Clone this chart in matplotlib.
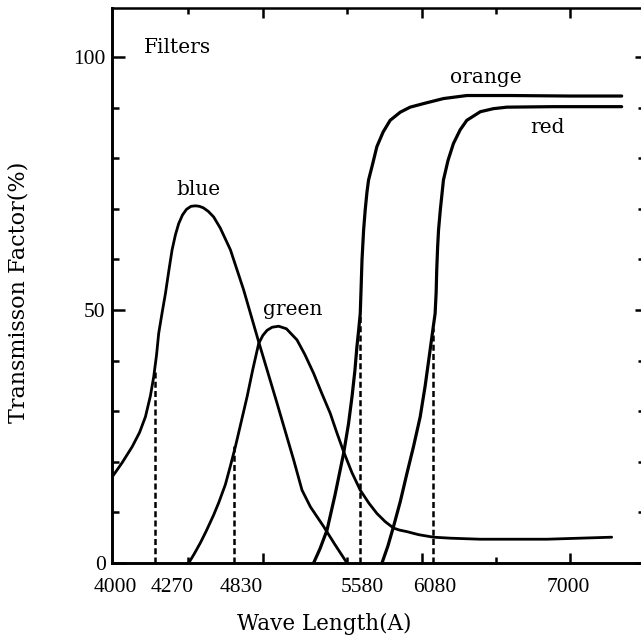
import numpy as np
import matplotlib
matplotlib.use("Agg")
import matplotlib.pyplot as plt
import matplotlib.transforms as mtransforms
from matplotlib.ticker import FixedLocator

# ---------------- data ----------------
blue_wl = [4000, 4060, 4124, 4170, 4207, 4238, 4259, 4278, 4293, 4318, 4341, 4365,
           4388, 4412, 4435, 4462, 4490, 4522, 4554, 4582, 4610, 4645, 4683, 4730,
           4802, 4885, 4975, 5084, 5183, 5233, 5283, 5362, 5430, 5501]
blue_t = [17.1, 19.8, 23.0, 25.8, 28.9, 33.0, 36.8, 41.2, 45.4, 49.6, 53.3, 57.8,
          61.9, 64.9, 67.1, 68.8, 69.9, 70.5, 70.6, 70.5, 70.2, 69.5, 68.4, 66.2,
          61.9, 54.0, 43.7, 31.6, 20.4, 14.4, 11.1, 7.2, 3.6, 0.0]

green_wl = [4506, 4545, 4589, 4630, 4683, 4720, 4766, 4800, 4836, 4870, 4906, 4940,
            4975, 5000, 5025, 5055, 5094, 5140, 5203, 5250, 5302, 5350, 5401, 5440,
            5481, 5530, 5580, 5640, 5694, 5750, 5808, 5850, 5900, 5980, 6082, 6200,
            6396, 6843, 7280]
green_t = [0.0, 1.8, 4.0, 6.3, 9.5, 12.0, 15.5, 19.0, 23.0, 27.8, 32.9, 38.3,
           43.4, 45.0, 46.0, 46.6, 46.8, 46.3, 44.1, 41.2, 37.5, 33.6, 29.6, 25.8,
           22.0, 17.9, 14.4, 11.8, 9.8, 8.2, 6.9, 6.5, 6.2, 5.6, 5.1, 4.9,
           4.7, 4.7, 5.1]

orange_wl = [5302, 5340, 5382, 5430, 5481, 5510, 5531, 5548, 5560, 5571, 5580, 5586,
             5592, 5603, 5614, 5626, 5637, 5660, 5694, 5737, 5785, 5854, 5922, 6013,
             6149, 6306, 6600, 7000, 7347]
orange_t = [0.0, 2.8, 6.5, 13.5, 21.7, 27.5, 32.9, 38.0, 42.7, 46.2, 49.3, 54.5,
            59.9, 65.8, 69.8, 73.3, 75.7, 78.3, 82.3, 85.2, 87.5, 89.1, 90.1, 90.8,
            91.8, 92.4, 92.4, 92.3, 92.3]

red_wl = [5729, 5770, 5808, 5855, 5900, 5945, 5991, 6025, 6059, 6082, 6093, 6100,
          6104, 6110, 6116, 6128, 6149, 6180, 6216, 6261, 6306, 6397, 6484, 6575,
          6888, 7347]
red_t = [0.0, 3.4, 7.2, 12.2, 17.7, 23.0, 28.9, 35.0, 42.1, 47.0, 49.3, 53.5,
         58.0, 62.5, 65.8, 69.8, 75.7, 79.6, 82.9, 85.6, 87.5, 89.2, 89.8, 90.1,
         90.2, 90.2]

# dashed drop lines at the filter wavelengths
dash_wl = [4270, 4830, 5580, 6080]
dash_top = [38.0, 23.5, 49.3, 46.5]

x_label_values = [4000, 4270, 4830, 5580, 6080, 7000]
x_label_texts = ["4000", "4270", "4830", "5580", "6080", "7000"]
x_long_ticks = [5000, 6000, 7000]
x_short_ticks = [4500, 5500, 6500]
y_major = [0, 50, 100]
y_minor = [10, 20, 30, 40, 60, 70, 80, 90]

# ---------------- hand-drawn (non-uniform) wavelength axis ----------------
KNOT_WL = np.array([4000, 4270, 4830, 5580, 6080, 7000], float)
KNOT_POS = np.array([0, 43, 122, 248, 321, 458], float)


def _pw(v, xs, ys):
    v = np.asarray(v, float)
    out = np.interp(v, xs, ys)
    s_lo = (ys[1] - ys[0]) / (xs[1] - xs[0])
    s_hi = (ys[-1] - ys[-2]) / (xs[-1] - xs[-2])
    out = np.where(v < xs[0], ys[0] + (v - xs[0]) * s_lo, out)
    out = np.where(v > xs[-1], ys[-1] + (v - xs[-1]) * s_hi, out)
    return out


def fwd(w):
    return _pw(w, KNOT_WL, KNOT_POS)


def inv(p):
    return _pw(p, KNOT_POS, KNOT_WL)


# ---------------- figure ----------------
W, H = 641, 640
fig = plt.figure(figsize=(W / 100, H / 100), dpi=100)
L, R, T, B = 112.5, 641.0, 8.0, 563.0
ax = fig.add_axes([L / W, 1 - B / H, (R - L) / W, (B - T) / H])
ax.set_xscale("function", functions=(fwd, inv))
ax.set_xlim(4000, 7477)
ax.set_ylim(0, 109.7)

for wl, t in [(blue_wl, blue_t), (green_wl, green_t)]:
    ax.plot(wl, t, color="black", lw=2.0, solid_capstyle="round",
            solid_joinstyle="round")
for wl, t in [(orange_wl, orange_t), (red_wl, red_t)]:
    ax.plot(wl, t, color="black", lw=2.3, solid_capstyle="round",
            solid_joinstyle="round")

for x, top in zip(dash_wl, dash_top):
    ax.plot([x, x], [0, top], color="black", lw=1.8, dashes=(2.4, 1.3))

# spines
for s in ["left", "bottom"]:
    ax.spines[s].set_linewidth(2.1)
ax.spines["top"].set_linewidth(1.8)
ax.spines["right"].set_visible(False)

serif_num = ["Liberation Serif", "DejaVu Serif"]
serif_txt = ["DejaVu Serif"]

# x ticks: marks only, labels as separate texts
ax.xaxis.set_major_locator(FixedLocator(x_long_ticks))
ax.xaxis.set_minor_locator(FixedLocator(x_short_ticks))
ax.tick_params(axis="x", which="major", direction="in", length=7.5, width=1.8,
               top=True, bottom=True, labelbottom=False, labeltop=False)
ax.tick_params(axis="x", which="minor", direction="in", length=4.5, width=1.8,
               top=True, bottom=True)

nudge_px = [3, 17, 7, 2, 1.5, -1.5]
for val, txt, dx in zip(x_label_values, x_label_texts, nudge_px):
    tr = mtransforms.blended_transform_factory(ax.transData, ax.transAxes)
    tr = tr + mtransforms.ScaledTranslation(dx / 100, -15 / 100, fig.dpi_scale_trans)
    ax.text(val, 0, txt, transform=tr, ha="center", va="top",
            fontsize=15.5, family=serif_num)

# y ticks left
ax.yaxis.set_major_locator(FixedLocator(y_major))
ax.yaxis.set_minor_locator(FixedLocator(y_minor))
ax.set_yticklabels([str(v) for v in y_major], fontsize=15.5, family=serif_num)
ax.tick_params(axis="y", which="major", direction="in", length=9, width=1.8,
               left=True, right=False, pad=5)
ax.tick_params(axis="y", which="minor", direction="in", length=5, width=1.8,
               left=True, right=False)

# right-hand tick marks
ax2 = ax.twinx()
ax2.set_ylim(ax.get_ylim())
for s in ax2.spines.values():
    s.set_visible(False)
ax2.yaxis.set_major_locator(FixedLocator(y_major))
ax2.yaxis.set_minor_locator(FixedLocator(y_minor))
ax2.tick_params(axis="y", which="major", direction="in", length=4.5, width=1.8,
                labelright=False)
ax2.tick_params(axis="y", which="minor", direction="in", length=2.5, width=1.8)

# annotations
tsz = 14.5
ax.text(4426, 100.8, "Filters", ha="center", va="baseline", fontsize=tsz, family=serif_txt)
ax.text(4575, 72.7, "blue", ha="center", va="baseline", fontsize=tsz, family=serif_txt)
ax.text(5175, 49.0, "green", ha="center", va="baseline", fontsize=tsz, family=serif_txt)
ax.text(6436, 94.9, "orange", ha="center", va="baseline", fontsize=tsz, family=serif_txt)
ax.text(6849, 85.0, "red", ha="center", va="baseline", fontsize=tsz, family=serif_txt)

# axis titles
fig.text(324 / W, 1 - 630 / H, "Wave Length(A)", ha="center", va="baseline",
         fontsize=15.5, family=serif_txt)
fig.text(18.5 / W, 1 - 292 / H, "Transmisson Factor(%)", ha="center", va="center",
         rotation=90, fontsize=16, family=serif_txt)

fig.savefig("out.png", dpi=100)
